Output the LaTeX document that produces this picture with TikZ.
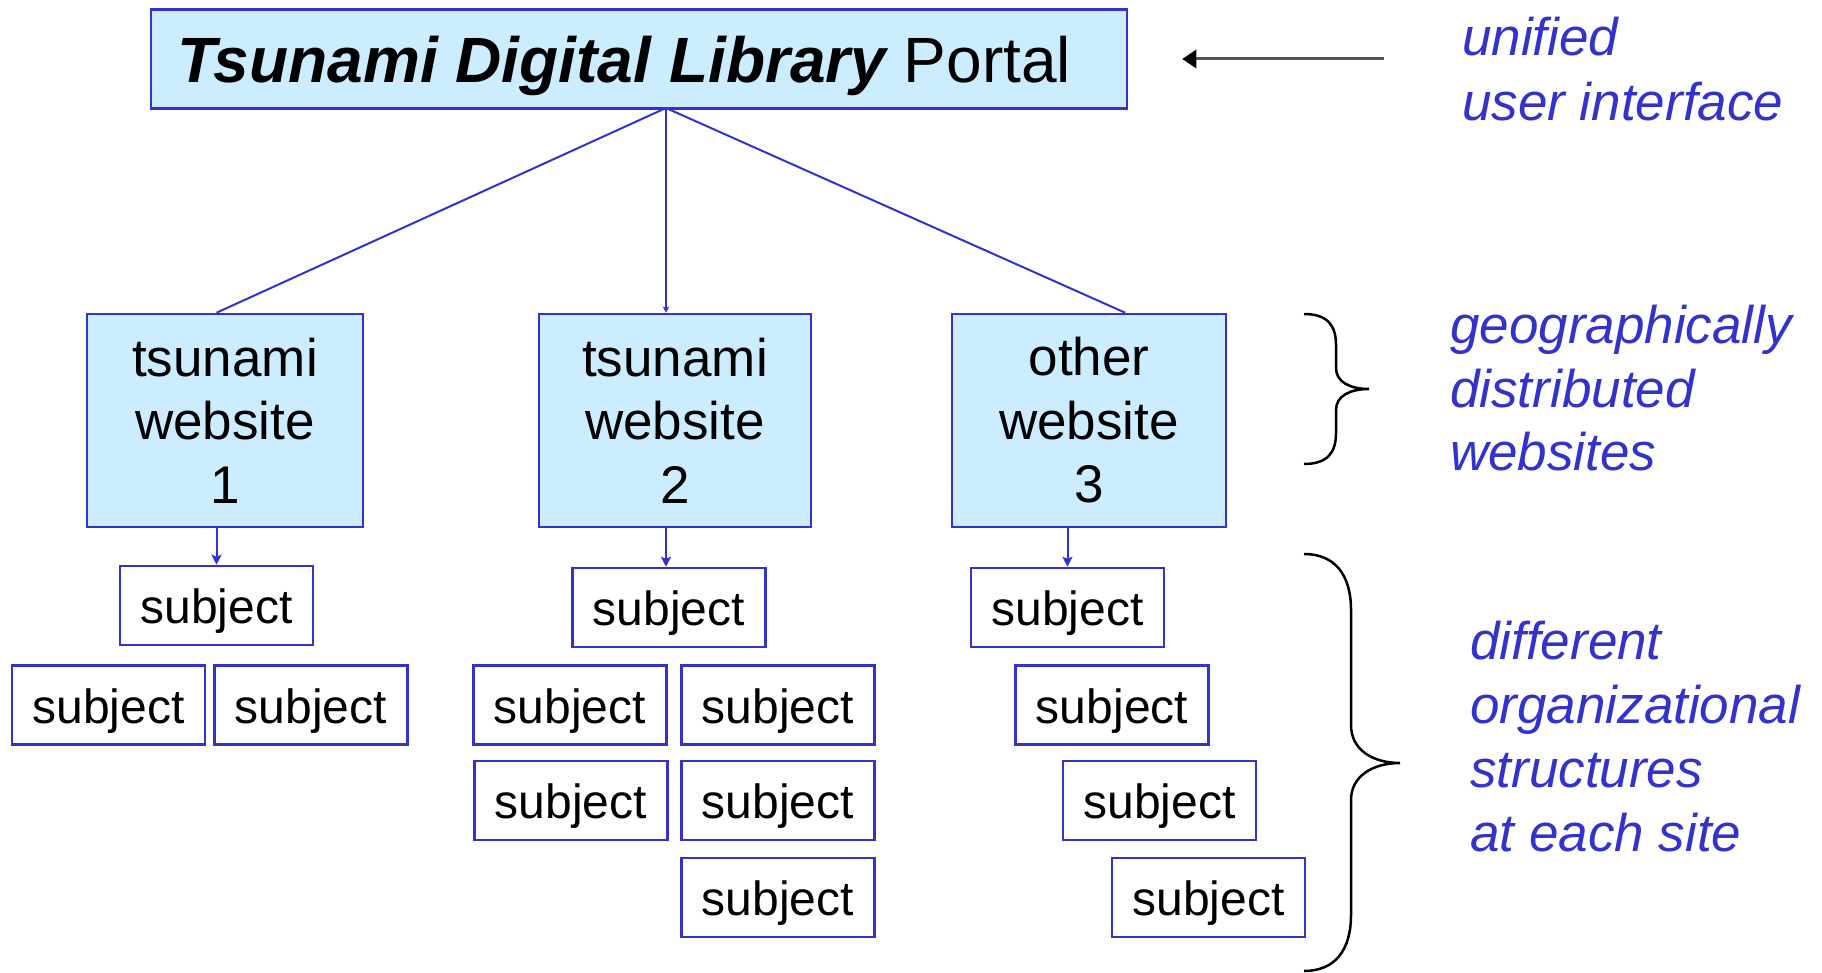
\documentclass[tikz,border=0pt]{standalone}
\usepackage{fontspec}
\setmainfont{Liberation Sans}
\usetikzlibrary{arrows.meta,calc}
\definecolor{boxblue}{RGB}{51,51,204}
\definecolor{fillblue}{RGB}{204,236,255}
\definecolor{arrgray}{RGB}{85,85,85}
\begin{document}
\begin{tikzpicture}[x=1pt,y=-1pt,
  portalbox/.style={draw=boxblue, fill=fillblue, line width=2.5pt, minimum width=976pt, minimum height=99pt, inner sep=0pt},
  webbox/.style={draw=boxblue, fill=fillblue, line width=2.5pt, minimum height=213pt, inner sep=0pt, align=center, font=\fontsize{53}{63.5}\selectfont},
  subjbox/.style={draw=boxblue, line width=2.5pt, minimum width=193pt, minimum height=79pt, inner sep=0pt, text height=36pt, text depth=0pt, font=\fontsize{48}{56}\selectfont},
  note/.style={anchor=base west, inner sep=0pt, text=boxblue, font=\fontsize{53}{64}\selectfont\itshape},
  link/.style={draw=boxblue, line width=2pt},
  sarrow/.style={link, -{Stealth[length=10pt,width=10pt,inset=2pt]}},
  bracestyle/.style={draw=black, line width=2.5pt}
]
\fill[white] (0,0) rectangle (1822,973);
\useasboundingbox (0,0) rectangle (1822,973);

% portal
\node[portalbox] (portal) at (639,59) {};
\node[anchor=base west, inner sep=0pt, font=\fontsize{64}{76}\selectfont] (portaltext) at (177,83) {{\bfseries\itshape Tsunami Digital Library} Portal};

% websites
\node[webbox, minimum width=276pt] (w1) at (225,420.5) {tsunami\\website\\1};
\node[webbox, minimum width=272pt] (w2) at (675,420.5) {tsunami\\website\\2};
\node[webbox, minimum width=274pt] (w3) at (1089,420.5) {other\\website\\3};

% subjects site 1
\node[subjbox] (s1a) at (216.5,605.5) {subject};
\node[subjbox] (s1b) at (108.5,705) {subject};
\node[subjbox] (s1c) at (311,705) {subject};
% subjects site 2
\node[subjbox] (s2a) at (669,607.5) {subject};
\node[subjbox] (s2b) at (570,705) {subject};
\node[subjbox] (s2c) at (778,705) {subject};
\node[subjbox] (s2d) at (571,800.5) {subject};
\node[subjbox] (s2e) at (778,800.5) {subject};
\node[subjbox] (s2f) at (778,897.5) {subject};
% subjects site 3
\node[subjbox] (s3a) at (1067.5,607.5) {subject};
\node[subjbox] (s3b) at (1112,705) {subject};
\node[subjbox] (s3c) at (1159.5,800.5) {subject};
\node[subjbox] (s3d) at (1208.5,897.5) {subject};

% connectors from portal
\coordinate (hub) at (666,108);
\draw[link] (hub) -- (s1a.north |- w1.north);
\draw[link, -{Stealth[length=6pt,width=6pt,inset=1pt]}] (hub) -- (hub |- w2.north);
\draw[link] (hub) -- ($(w3.north west)!0.631!(w3.north east)$);

% connectors to subjects
\draw[sarrow] (s1a.north |- w1.south) -- (s1a.north);
\draw[sarrow] (hub |- w2.south) -- (hub |- s2a.north);
\draw[sarrow] (s3a.north |- w3.south) -- (s3a.north);

% unified UI arrow
\coordinate (uitail) at (1384,59);
\coordinate (uitip) at ($(portal.east)+(54,0)$);
\draw[draw=arrgray, line width=3pt, -{Triangle[length=14pt,width=18pt,color=black]}] (uitail) -- (uitip);

% notes
\node[note] (u1) at (1462,56) {unified};
\node[note] (u2) at (1462,121) {user interface};
\node[note] (g1) at (1450,343) {geographically};
\node[note] (g2) at (1450,407) {distributed};
\node[note] (g3) at (1450,470) {websites};
\node[note] (d1) at (1470,659) {different};
\node[note] (d2) at (1470,723) {organizational};
\node[note] (d3) at (1470,787) {structures};
\node[note] (d4) at (1470,851) {at each site};

% braces
\draw[bracestyle] (1304,314) .. controls (1328,314) and (1336,326) .. (1336,345) -- (1336,368)
  .. controls (1336,382) and (1350,389) .. (1369,389)
  .. controls (1350,389) and (1336,396) .. (1336,410) -- (1336,433)
  .. controls (1336,452) and (1328,464) .. (1304,464);
\draw[bracestyle] (1304,554) .. controls (1335,554) and (1351,575) .. (1351,610) -- (1351,725)
  .. controls (1351,750) and (1373,763) .. (1400,763)
  .. controls (1373,763) and (1351,776) .. (1351,800) -- (1351,915)
  .. controls (1351,950) and (1335,971) .. (1304,971);
\end{tikzpicture}
\end{document}
